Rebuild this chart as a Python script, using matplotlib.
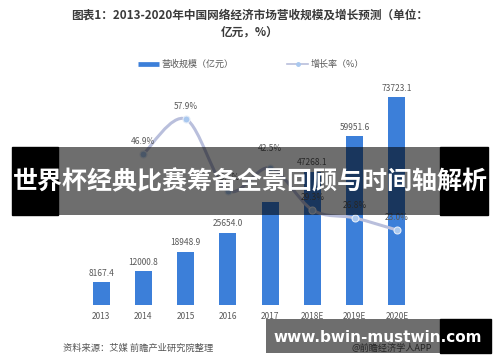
import matplotlib
matplotlib.use("Agg")
import matplotlib.pyplot as plt
from matplotlib.patches import Rectangle
from matplotlib.lines import Line2D
from matplotlib.path import Path
from matplotlib.patches import PathPatch

plt.rcParams['font.family'] = ['Noto Sans CJK SC', 'DejaVu Sans']

years = ["2013", "2014", "2015", "2016", "2017", "2018E", "2019E", "2020E"]
revenue = [8167.4, 12000.8, 18948.9, 25654.0, 36557.0, 47268.1, 59951.6, 73723.1]
revenue_labels = ["8167.4", "12000.8", "18948.9", "25654.0", "", "47268.1", "59951.6", "73723.1"]
growth_years = ["2014", "2015", "2016", "2017", "2018E", "2019E", "2020E"]
growth = [46.9, 57.9, 35.4, 42.5, 29.3, 26.8, 23.0]

title = "图表1：2013-2020年中国网络经济市场营收规模及增长预测（单位：\n亿元，%）"
legend_bar = "营收规模（亿元）"
legend_line = "增长率（%）"
source = "资料来源：艾媒 前瞻产业研究院整理"
credit = "@前瞻经济学人APP"
banner = "世界杯经典比赛筹备全景回顾与时间轴解析"
url = "www.bwin-mustwin.com"

W, H = 500, 362
fig = plt.figure(figsize=(W / 100, H / 100), dpi=100)
fig.patch.set_facecolor("white")

def fx(x):
    return x / W

def fy(y):
    return 1 - y / H

BAR = "#3c7fd9"
TXT = "#595959"
LINE = "#b9bfdc"

ax = fig.add_axes([fx(80), fy(305), fx(338), 225 / H])
xs = list(range(len(years)))
ax.bar(xs, revenue, width=0.4, color=BAR, zorder=2)
ax.set_xlim(-0.5, len(years) - 0.5)
ax.set_ylim(0, 79748)
for x, v, lab in zip(xs, revenue, revenue_labels):
    if lab:
        ax.annotate(lab, (x, v), xytext=(0, 3), textcoords="offset points",
                    ha="center", va="bottom", fontsize=6, color=TXT)
ax.set_xticks(xs)
ax.set_xticklabels(years, fontsize=6, color=TXT)
ax.tick_params(axis="x", length=0, pad=5)
ax.set_yticks([])
for s in ax.spines.values():
    s.set_visible(False)

ax2 = ax.twinx()
ax2.set_ylim(-0.58, 70.17)
ax2.set_yticks([])
for s in ax2.spines.values():
    s.set_visible(False)
gx = [years.index(y) for y in growth_years]

# smooth curve (Catmull-Rom -> cubic Bezier) through the data points
pts = list(zip(gx, growth))
verts = [pts[0]]
codes = [Path.MOVETO]
for i in range(len(pts) - 1):
    p0 = pts[i - 1] if i > 0 else pts[i]
    p1 = pts[i]
    p2 = pts[i + 1]
    p3 = pts[i + 2] if i + 2 < len(pts) else pts[i + 1]
    t = 1 / 6
    c1 = (p1[0] + (p2[0] - p0[0]) * t, p1[1] + (p2[1] - p0[1]) * t)
    c2 = (p2[0] - (p3[0] - p1[0]) * t, p2[1] - (p3[1] - p1[1]) * t)
    verts += [c1, c2, p2]
    codes += [Path.CURVE4] * 3
ax2.add_patch(PathPatch(Path(verts, codes), facecolor="none",
                        edgecolor=LINE, lw=2.2, zorder=3))
ax2.plot(gx, growth, ls="none", marker="o", ms=5, mfc="#a9c8ef",
         mec="#e4ecf8", mew=0.8, zorder=4)
label_offsets = [6, 6, 6, 11, 6, 6, 6]
for x, v, off in zip(gx, growth, label_offsets):
    ax2.annotate(f"{v:.1f}%", (x, v), xytext=(0, off), textcoords="offset points",
                 ha="center", va="bottom", fontsize=6, color=TXT)

fig.text(0.5, fy(24), title, ha="center", va="center", fontsize=8.4,
         fontweight="bold", color="#3a3a3a", linespacing=1.4)

handles = [Line2D([0], [0], color=BAR, lw=3.4, solid_capstyle="butt"),
           Line2D([0], [0], color=LINE, lw=1.2, marker="o", ms=2.5,
                  mfc="#a9c8ef", mec="#a9c8ef")]
fig.legend(handles, [legend_bar, legend_line], loc="center",
           bbox_to_anchor=(fx(251), fy(64)), ncol=2, frameon=False,
           fontsize=6.5, handlelength=2.3, handletextpad=0.3,
           columnspacing=6.0, labelcolor=TXT)

fig.text(fx(63), fy(348), source, ha="left", va="center", fontsize=6.7,
         color="#555555")
fig.text(fx(352), fy(348), credit, ha="left", va="center", fontsize=6.6,
         color="#555555")

# banner overlay
fig.add_artist(Rectangle((fx(12), fy(215)), fx(46), (215 - 147) / H,
                         transform=fig.transFigure, color="black", zorder=10))
fig.add_artist(Rectangle((fx(440), fy(215)), fx(48), (215 - 147) / H,
                         transform=fig.transFigure, color="black", zorder=10))
fig.add_artist(Rectangle((fx(58), fy(215)), fx(382), (215 - 147) / H,
                         transform=fig.transFigure, color="black", alpha=0.57,
                         lw=0, zorder=10))
fig.text(0.5, fy(182), banner, ha="center", va="center", fontsize=18,
         fontweight="bold", color="white", zorder=11)

# url overlay
fig.add_artist(Rectangle((fx(266), fy(353)), fx(174), (353 - 319) / H,
                         transform=fig.transFigure, color="black", alpha=0.57,
                         lw=0, zorder=10))
fig.add_artist(Rectangle((fx(440), fy(353)), fx(51), (353 - 319) / H,
                         transform=fig.transFigure, color="black", zorder=10))
fig.text(fx(377.5), fy(342), url, ha="center", va="baseline", fontsize=11,
         fontweight="bold", color="white", family="DejaVu Sans", zorder=11)

fig.savefig("out.png", dpi=100, facecolor="white")
